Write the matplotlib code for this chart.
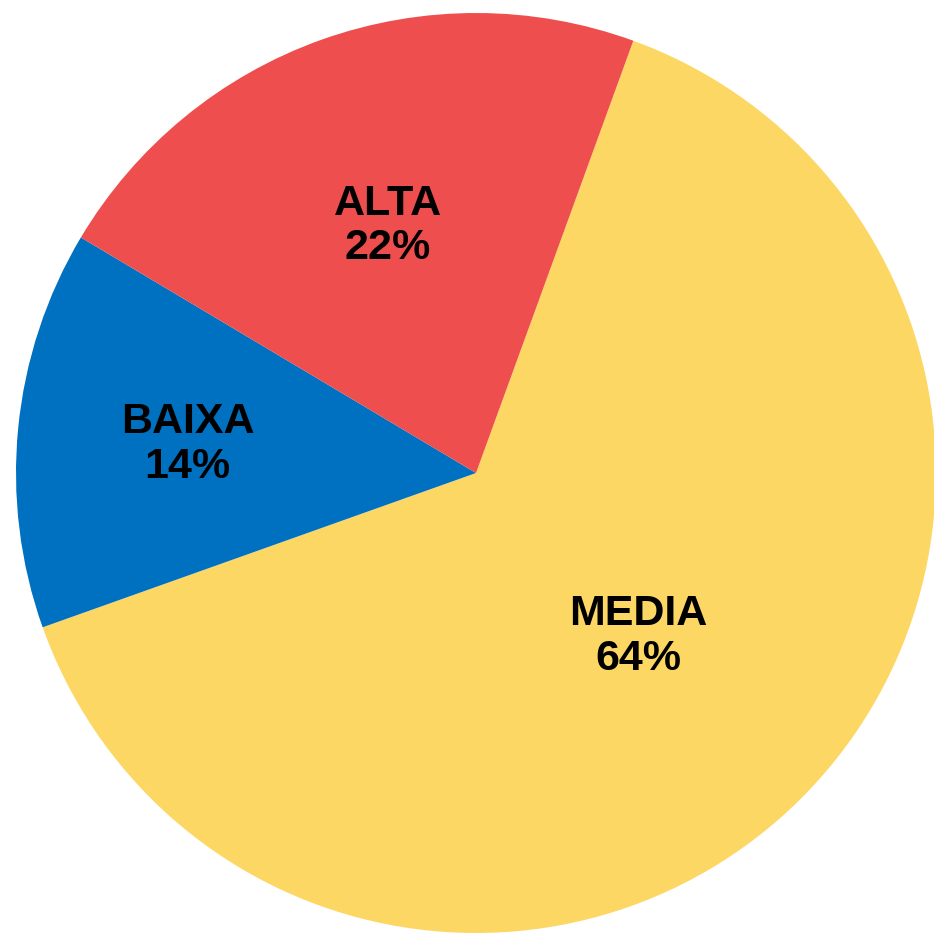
import numpy as np
import matplotlib.pyplot as plt

# Data
categories = ['MEDIA', 'BAIXA', 'ALTA']
values = [64, 14, 22]
colors = ['#FDD764', '#0070C0', '#EE4E4D']
label_radius = [0.50, 0.63, 0.57]

plt.rcParams['font.family'] = ['Liberation Sans', 'DejaVu Sans']

fig = plt.figure(figsize=(9.34, 9.33), dpi=100)
ax = fig.add_axes([16 / 934, 0, 920 / 934, 920 / 933])

wedges, _ = ax.pie(values, colors=colors, startangle=70, counterclock=False,
                   radius=1, wedgeprops=dict(linewidth=0))

# Labels inside slices
for w, name, val, r in zip(wedges, categories, values, label_radius):
    mid = np.deg2rad((w.theta1 + w.theta2) / 2)
    ax.text(r * np.cos(mid), r * np.sin(mid), f'{name}\n{val}%',
            ha='center', va='center', fontsize=31, fontweight='bold',
            color='black', linespacing=1.15)

ax.set_xlim(-1, 1)
ax.set_ylim(-1, 1)
ax.axis('off')

fig.savefig('out.png', dpi=100)
